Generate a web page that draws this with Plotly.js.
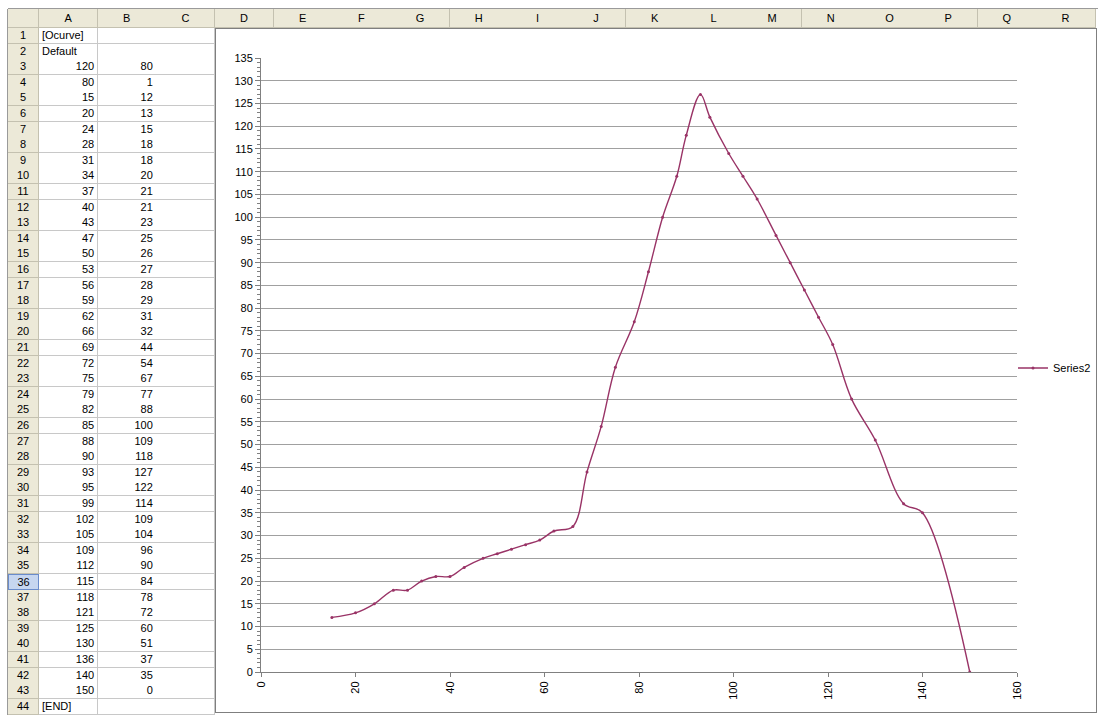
<!DOCTYPE html>
<html>
<head>
<meta charset="utf-8">
<script src="https://cdn.plot.ly/plotly-3.0.1.min.js"></script>
<style>
  html, body { margin:0; padding:0; background:#ffffff; }
  body { width:1098px; height:715px; position:relative; overflow:hidden; font-family:"Liberation Sans", Arial, sans-serif; }
  .hdr { position:absolute; background:#ECE9D8; border-right:1px solid #C4C1B0; border-bottom:1px solid #C4C1B0; box-sizing:border-box; font-size:11px; color:#000; text-align:center; line-height:19px; }
  .rn { position:absolute; background:#ECE9D8; border-right:1px solid #C4C1B0; border-bottom:1px solid #C4C1B0; box-sizing:border-box; font-size:11px; color:#000; text-align:center; }
  .cell { position:absolute; background:#fff; border-right:1px solid #C8C8C8; border-bottom:1px solid #C8C8C8; box-sizing:border-box; font-size:11px; color:#000; padding:0 3px; white-space:nowrap; }
  #chartbox { position:absolute; left:215px; top:28px; width:882px; height:685px; background:#fff; border:1px solid #7f7f7f; box-sizing:border-box; }
  #chart { position:absolute; left:215px; top:28px; width:1000px; height:685px; }
</style>
</head>
<body>
<div id="sheet"></div>
<div id="chartbox"></div>
<div id="chart"></div>
<script>
// ---- data read from the sheet ----
const colLetters = ["A","B","C","D","E","F","G","H","I","J","K","L","M","N","O","P","Q","R"];
const headTextA = ["[Ocurve]", "Default"];
const paramA = [120, 80];
const paramB = [80, 1];
const xVals = [15,20,24,28,31,34,37,40,43,47,50,53,56,59,62,66,69,72,75,79,82,85,88,90,93,95,99,102,105,109,112,115,118,121,125,130,136,140,150];
const yVals = [12,13,15,18,18,20,21,21,23,25,26,27,28,29,31,32,44,54,67,77,88,100,109,118,127,122,114,109,104,96,90,84,78,72,60,51,37,35,0];
const endText = "[END]";
const seriesName = "Series2";
const xTicks = [0,20,40,60,80,100,120,140,160];

// ---- spreadsheet grid ----
const sheet = document.getElementById('sheet');
const top0 = 9, hdrH = 19, rowH = 15.6, rnL = 8, rnW = 31, colW = 58.67;
const colA = rnL + rnW;
function add(cls, l, t, w, h, txt, align) {
  const d = document.createElement('div');
  d.className = cls;
  d.style.left = l + 'px'; d.style.top = t + 'px';
  d.style.width = w + 'px'; d.style.height = h + 'px';
  d.style.lineHeight = (h - 1) + 'px';
  if (align) d.style.textAlign = align;
  d.textContent = txt;
  sheet.appendChild(d);
  return d;
}
const tl = document.createElement('div');
tl.style.cssText = 'position:absolute;left:8px;top:8px;width:1090px;height:1px;background:#9a9a9a;';
sheet.appendChild(tl);
add('hdr', rnL, top0, rnW, hdrH, '');
colLetters.forEach((c, i) => add('hdr', colA + i * colW, top0, colW + 0.5, hdrH, c));
const rows = [];
headTextA.forEach(t => rows.push([t, '', 'left']));
paramA.forEach((v, i) => rows.push([String(v), String(paramB[i]), 'right']));
xVals.forEach((v, i) => rows.push([String(v), String(yVals[i]), 'right']));
rows.push([endText, '', 'left']);
const rowTop = top0 + hdrH;
rows.forEach((r, i) => {
  const t = rowTop + i * rowH;
  const rn = add('rn', rnL, t, rnW, rowH + 0.5, String(i + 1));
  if (i + 1 === 36) { rn.style.background = '#C6D6F0'; rn.style.border = '1px solid #6A8CCB'; }
  add('cell', colA, t, colW + 0.5, rowH + 0.5, r[0], r[2]);
  add('cell', colA + colW, t, colW + 0.5, rowH + 0.5, r[1], 'right');
  add('cell', colA + 2 * colW, t, colW + 0.5, rowH + 0.5, '', 'right');
});
const lb = document.createElement('div');
lb.style.cssText = 'position:absolute;left:7px;top:9px;width:1px;height:706px;background:#9a9a9a;';
sheet.appendChild(lb);

// ---- chart ----
const trace = {
  x: xVals, y: yVals, type: 'scatter', mode: 'lines+markers', name: seriesName,
  line: { color: '#993366', width: 1.4, shape: 'spline', smoothing: 1 },
  marker: { color: '#993366', size: 3, symbol: 'circle' }
};
const layout = {
  width: 1000, height: 685,
  margin: { l: 46, r: 198, t: 30, b: 41 },
  paper_bgcolor: 'rgba(0,0,0,0)', plot_bgcolor: 'rgba(0,0,0,0)',
  font: { family: 'Liberation Sans, Arial, sans-serif', size: 11, color: '#000' },
  showlegend: true,
  legend: { x: 0.9947, y: 0.495, xanchor: 'left', yanchor: 'middle', bgcolor: 'rgba(0,0,0,0)', font: { size: 11 }, itemwidth: 30 },
  xaxis: {
    range: [0, 160], tickvals: xTicks, ticktext: xTicks.map(String), tickangle: -90,
    showgrid: false, zeroline: false, showline: true, linecolor: '#808080', linewidth: 1,
    ticks: 'outside', ticklen: 4, tickcolor: '#808080', fixedrange: true
  },
  yaxis: {
    range: [0, 135], dtick: 5, tick0: 0,
    showgrid: true, gridcolor: '#a0a0a0', gridwidth: 1, zeroline: false,
    showline: true, linecolor: '#808080', linewidth: 1,
    ticks: 'outside', ticklen: 5, tickcolor: '#808080',
    minor: { dtick: 1, ticks: 'outside', ticklen: 3, tickcolor: '#808080', showgrid: false },
    fixedrange: true
  }
};
Plotly.newPlot('chart', [trace], layout, { displayModeBar: false, staticPlot: true });
</script>
</body>
</html>
